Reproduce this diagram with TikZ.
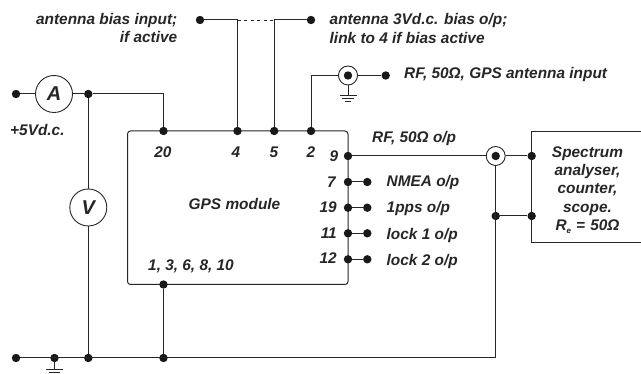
\documentclass[tikz,border=0pt]{standalone}
\usepackage{fontspec}
\setmainfont{Liberation Sans}
\tikzset{
  x=1pt,y=-1pt,
  wire/.style={line width=1pt,draw=black!85},
  jdot/.style={circle,fill=black!90,inner sep=0pt,minimum size=8.4pt},
  meter/.style={circle,draw=black!85,line width=0.9pt,fill=white,inner sep=0pt,minimum size=37pt,font=\fontsize{20}{20}\selectfont\bfseries\itshape,text=black!85},
  coaxo/.style={circle,draw=black!85,line width=0.9pt,fill=white,inner sep=0pt,minimum size=19pt},
  lab/.style={font=\fontsize{15.4}{18.2}\selectfont\bfseries\itshape,text=black!85,inner sep=0pt},
  gline/.style={line width=0.9pt,draw=black!85}
}
\begin{document}
\begin{tikzpicture}
\useasboundingbox (0,0) rectangle (641,374);
% module box
\draw[wire,rounded corners=3pt] (127.5,131) rectangle (348,284.5);
% spectrum box (open at the picture's right edge)
\coordinate (sat) at (641,131.5);
\coordinate (sab) at (641,242.3);
\draw[wire] (sat) -- (531.7,131.5) -- (531.7,242.3) -- (sab);
% meters and terminals
\node[jdot] (vin) at (16,94) {};
\node[meter] (A) at (54,94) {A};
\node[jdot] (jv) at (88.3,94) {};
\node[meter] (V) at (88.3,207.5) {V};
\node[jdot] (g0) at (16,358) {};
\node[jdot] (g1) at (54.5,358) {};
\node[jdot] (g2) at (88.3,358) {};
\node[jdot] (g3) at (163.5,358) {};
\node[jdot] (p20) at (163.5,131) {};
\node[jdot] (p4) at (237.5,131) {};
\node[jdot] (p5) at (274.2,131) {};
\node[jdot] (p2) at (311,131) {};
\node[jdot] (pg) at (163.5,284.5) {};
\node[jdot] (bi) at (200,20) {};
\node[jdot] (bo) at (311,20) {};
\coordinate (j4) at (237.5,20);
\coordinate (j5) at (274.2,20);
\node[coaxo] (cx1) at (348,75.5) {};
\node[jdot] (ci1) at (348,75.5) {};
\node[jdot] (ant) at (385.7,75.5) {};
\coordinate (c2) at (311,75.5);
\node[jdot] (p9) at (348,156) {};
\node[coaxo] (cx2) at (495.7,156) {};
\node[jdot] (ci2) at (495.7,156) {};
\node[jdot] (sa1) at (531.7,156) {};
\node[jdot] (sh) at (495.7,216) {};
\node[jdot] (sa2) at (531.7,216) {};
\coordinate (gr) at (495.7,358);
\foreach \n/\y in {7/182,19/207.7,11/233.3,12/259.3}{
  \node[jdot] (p\n) at (348,\y) {};
  \node[jdot] (o\n) at (367.3,\y) {};
  \draw[wire] (p\n) -- (o\n);
}
% wires
\draw[wire] (vin) -- (A);
\draw[wire] (A) -- (jv);
\draw[wire] (jv) -| (p20);
\draw[wire] (jv) -- (V);
\draw[wire] (V) -- (g2);
\draw[wire] (g0) -- (gr) -- (cx2);
\draw[wire] (pg) -- (g3);
\draw[wire] (bi) -- (j4);
\draw[wire,line width=0.7pt,dash pattern=on 3pt off 3.5pt] (j4) -- (j5);
\draw[wire] (j5) -- (bo);
\draw[wire] (j4) -- (p4);
\draw[wire] (j5) -- (p5);
\draw[wire] (p2) -- (c2) -- (cx1);
\draw[wire] (cx1) -- (ant);
\draw[wire] (p9) -- (cx2);
\draw[wire] (cx2) -- (sa1);
\draw[wire] (sh) -- (sa2);
% grounds
\coordinate (gt1) at (348,95);
\draw[wire] (cx1) -- (gt1);
\draw[gline] (339.5,95) -- (356.5,95) (342,98.3) -- (354,98.3) (345,101.5) -- (351,101.5);
\coordinate (gt2) at (54.5,369);
\draw[wire] (g1) -- (gt2);
\draw[gline] (46,369) -- (63,369) (49,372) -- (60,372);
% labels
\node[lab,align=right,anchor=east] (t1) at (177.5,28) {antenna bias input;\\if active};
\node[lab,align=left,anchor=west] (t2) at (329.5,28.5) {antenna 3Vd.c. bias o/p;\\link to 4 if bias active};
\node[lab,anchor=west] (t3) at (404,75) {RF, 50Ω, GPS antenna input};
\node[lab,anchor=west] (t4) at (372,139) {RF, 50Ω o/p};
\node[lab,anchor=west] (t5) at (10,130.5) {+5Vd.c.};
\node[lab] (n20) at (163,152) {20};
\node[lab] (n4) at (236,152) {4};
\node[lab] (n5) at (274,152) {5};
\node[lab] (n2) at (311,152) {2};
\node[lab,anchor=east] (n9) at (338.5,156) {9};
\node[lab,anchor=east] (n7) at (336,182) {7};
\node[lab,anchor=east] (n19) at (337,207) {19};
\node[lab,anchor=east] (n11) at (337,233) {11};
\node[lab,anchor=east] (n12) at (337,258) {12};
\node[lab,anchor=west] (l7) at (386.5,183) {NMEA o/p};
\node[lab,anchor=west] (l19) at (386.5,209) {1pps o/p};
\node[lab,anchor=west] (l11) at (386.5,235.5) {lock 1 o/p};
\node[lab,anchor=west] (l12) at (386.5,261.5) {lock 2 o/p};
\node[lab] (gm) at (234.5,204) {GPS module};
\node[lab] (pl) at (191,266) {1, 3, 6, 8, 10};
\node[lab,align=center,text width=100pt] (sp) at (587.5,190) {Spectrum\\analyser,\\counter,\\scope.\\R\raisebox{-3pt}{\fontsize{8}{8}\selectfont e} = 50Ω};
\end{tikzpicture}
\end{document}
